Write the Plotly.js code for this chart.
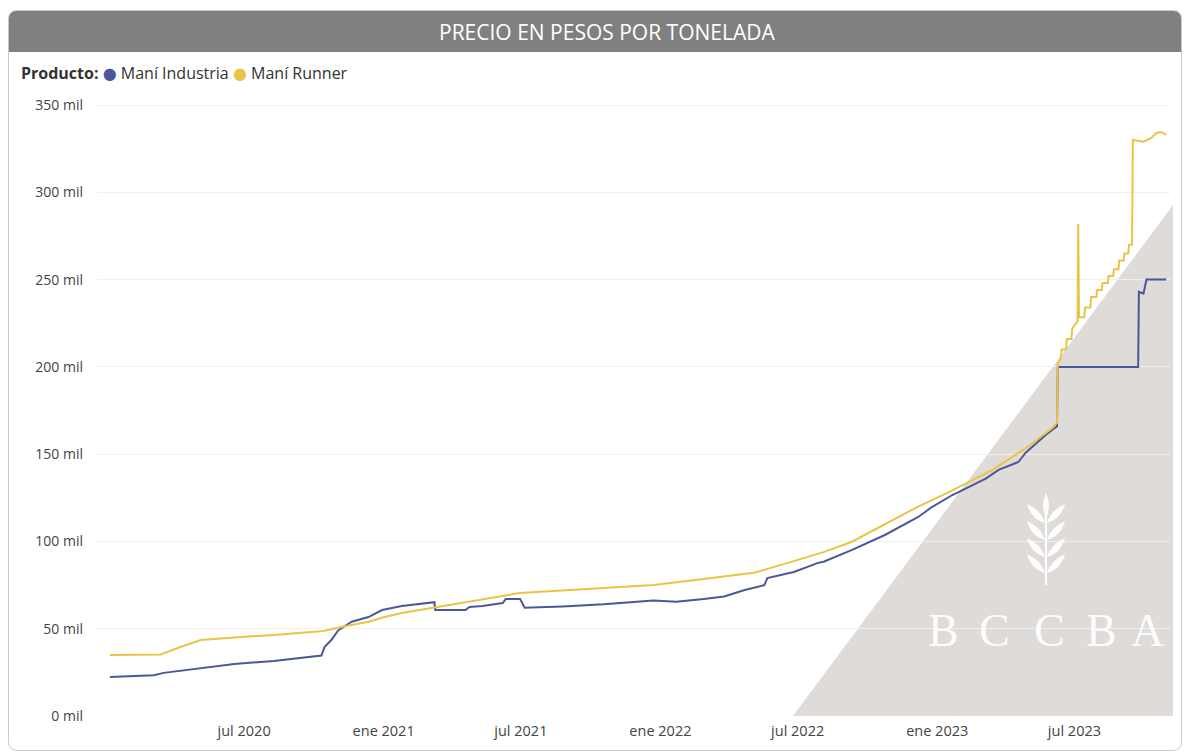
<!DOCTYPE html>
<html>
<head>
<meta charset="utf-8">
<script src="https://cdn.plot.ly/plotly-3.0.1.min.js"></script>
<style>
  html, body { margin: 0; padding: 0; background: #ffffff; }
  #chart { width: 1188px; height: 754px; }
</style>
</head>
<body>
<div id="chart"></div>
<script>
// ---- Data (values in thousands of pesos per tonne) ----
const industriaFechas = [
  '2020-01-06','2020-03-04','2020-03-17','2020-05-05','2020-06-18','2020-08-09','2020-09-14','2020-10-11',
  '2020-10-15','2020-10-24','2020-11-02','2020-11-20','2020-12-12','2020-12-30','2021-01-25','2021-02-21',
  '2021-03-06','2021-03-09','2021-03-10','2021-04-19','2021-04-24','2021-05-11','2021-06-07','2021-06-11',
  '2021-06-30','2021-07-06','2021-08-25','2021-10-18','2021-12-23','2022-01-22','2022-02-27','2022-03-26',
  '2022-04-21','2022-05-18','2022-05-22','2022-06-26','2022-07-27','2022-08-05','2022-09-10','2022-10-24',
  '2022-12-07','2022-12-25','2023-01-21','2023-02-11','2023-03-06','2023-03-23','2023-04-18','2023-04-28',
  '2023-05-24','2023-06-08','2023-06-09','2023-09-23','2023-09-24','2023-09-30','2023-10-03','2023-10-04',
  '2023-10-30'
];
const industriaValores = [
  22.3, 23.3, 24.7, 27.5, 29.8, 31.5, 33.5, 34.6,
  39.5, 43.5, 49, 54, 56.7, 60.7, 63, 64.5,
  65.3, 65.2, 60.7, 60.7, 62.4, 63, 64.7, 67,
  67, 62, 62.8, 64, 66.2, 65.5, 67, 68.5,
  72, 75, 79, 82.5, 87.6, 88.5, 95, 103.7,
  114, 119.7, 126.6, 131, 136, 141, 145.5, 151,
  161, 166, 200, 200, 243, 242, 248.6, 250,
  250
];
const runnerFechas = [
  '2020-01-06','2020-03-13','2020-04-08','2020-05-05','2020-06-18','2020-08-09','2020-10-14','2020-11-06',
  '2020-12-12','2021-01-02','2021-01-25','2021-03-06','2021-05-15','2021-06-29','2021-10-18','2021-12-23',
  '2022-02-27','2022-05-04','2022-06-17','2022-08-05','2022-09-10','2022-12-07','2023-01-15','2023-03-15',
  '2023-04-28','2023-06-02','2023-06-08','2023-06-09','2023-06-13','2023-06-14','2023-06-20','2023-06-21',
  '2023-06-27','2023-06-28','2023-07-05','2023-07-06','2023-07-07','2023-07-14','2023-07-15','2023-07-22',
  '2023-07-23','2023-07-30','2023-07-31','2023-08-06','2023-08-07','2023-08-14','2023-08-15','2023-08-21',
  '2023-08-22','2023-08-28','2023-08-29','2023-09-04','2023-09-05','2023-09-10','2023-09-11','2023-09-15',
  '2023-09-16','2023-09-30','2023-10-10','2023-10-17','2023-10-23','2023-10-30'
];
const runnerValores = [
  35, 35.3, 39.5, 43.5, 45, 46.4, 48.7, 51,
  54, 56.7, 59, 61.9, 67, 70.4, 73.3, 75,
  78.5, 82, 87.6, 94, 99.7, 120, 128, 141,
  153.5, 165, 168, 202, 205, 210, 210, 216,
  216, 222, 226, 282, 228.5, 228.5, 234, 234,
  240, 240, 244, 244, 248, 248, 252, 252,
  256, 256, 261, 261, 265, 265, 270, 270,
  330, 329, 331, 334, 334.5, 333
];
const tickFechas = ['2020-07-01','2021-01-01','2021-07-01','2022-01-01','2022-07-01','2023-01-01','2023-07-01'];
const tickTextos = ['jul 2020','ene 2021','jul 2021','ene 2022','jul 2022','ene 2023','jul 2023'];
const yTicks = [0, 50, 100, 150, 200, 250, 300, 350];
const yTickTextos = ['0 mil','50 mil','100 mil','150 mil','200 mil','250 mil','300 mil','350 mil'];
const serieNombres = ['Maní Industria', 'Maní Runner'];
const tituloTexto = 'PRECIO EN PESOS POR TONELADA';
const leyendaTitulo = 'Producto:';
const marcaLetras = ['B', 'C', 'C', 'B', 'A'];

// ---- Layout geometry helpers ----
const W = 1188, H = 754;
const ML = 97, MR = 18, MT = 104, MB = 38;
const PW = W - ML - MR, PH = H - MT - MB;
const fx = px => (px - ML) / PW;
const fy = py => (H - MB - py) / PH;
const P = (px, py) => fx(px).toFixed(5) + ',' + fy(py).toFixed(5);

const AZUL = '#4b5897';
const AMARILLO = '#e9c547';
const FONT = '"Open Sans", "Noto Sans", "DejaVu Sans", sans-serif';

// container border (rounded)
const x0 = 8.5, y0 = 10.5, x1 = 1181.5, y1 = 750.5, r = 9;
const borderPath = 'M' + P(x0 + r, y0) + ' L' + P(x1 - r, y0) + ' Q' + P(x1, y0) + ' ' + P(x1, y0 + r) +
  ' L' + P(x1, y1 - r) + ' Q' + P(x1, y1) + ' ' + P(x1 - r, y1) +
  ' L' + P(x0 + r, y1) + ' Q' + P(x0, y1) + ' ' + P(x0, y1 - r) +
  ' L' + P(x0, y0 + r) + ' Q' + P(x0, y0) + ' ' + P(x0 + r, y0) + ' Z';
const barPath = 'M' + P(x0, 52) + ' L' + P(x0, y0 + r) + ' Q' + P(x0, y0) + ' ' + P(x0 + r, y0) +
  ' L' + P(x1 - r, y0) + ' Q' + P(x1, y0) + ' ' + P(x1, y0 + r) + ' L' + P(x1, 52) + ' Z';
const triPath = 'M' + P(793, 716) + ' L' + P(1173, 205) + ' L' + P(1173, 716) + ' Z';

// wheat icon (watermark)
function leafR(b) { return `M23,${b} Q26,${b-12} 41,${b-19} Q37,${b-4} 23,${b} Z`; }
function leafL(b) { return `M21,${b} Q18,${b-12} 3,${b-19} Q7,${b-4} 21,${b} Z`; }
let leaves = '';
[30, 47, 64, 80].forEach(b => { leaves += `<path d="${leafR(b)}"/><path d="${leafL(b)}"/>`; });
const wheatSvg = `<svg xmlns="http://www.w3.org/2000/svg" width="44" height="92" viewBox="0 0 44 92">` +
  `<g fill="#ffffff"><path d="M22,0 Q28,12 22,25 Q16,12 22,0 Z"/>${leaves}</g>` +
  `<path d="M22,20 L22,92" stroke="#ffffff" stroke-width="2.2"/></svg>`;
const wheatSrc = 'data:image/svg+xml;base64,' + btoa(wheatSvg);

const letterX = [943, 994, 1049, 1101, 1147];
const letterAnn = marcaLetras.map((t, i) => ({
  text: t, x: fx(letterX[i]), y: fy(630), xref: 'paper', yref: 'paper',
  xanchor: 'center', yanchor: 'middle', showarrow: false,
  font: { family: '"Liberation Serif", "DejaVu Serif", serif', size: 46, color: '#ffffff' },
  opacity: 0.92
}));

const traces = [
  { x: industriaFechas, y: industriaValores, name: serieNombres[0], type: 'scatter', mode: 'lines',
    line: { color: AZUL, width: 2 }, hoverinfo: 'x+y' },
  { x: runnerFechas, y: runnerValores, name: serieNombres[1], type: 'scatter', mode: 'lines',
    line: { color: AMARILLO, width: 2 }, hoverinfo: 'x+y' }
];

const layout = {
  width: W, height: H,
  margin: { l: ML, r: MR, t: MT, b: MB, pad: 0 },
  paper_bgcolor: '#ffffff', plot_bgcolor: '#ffffff',
  showlegend: false,
  font: { family: FONT, color: '#444444', size: 14 },
  xaxis: {
    type: 'date', range: ['2019-12-20', '2023-11-04'],
    tickmode: 'array', tickvals: tickFechas, ticktext: tickTextos,
    showgrid: false, zeroline: false, showline: false, ticks: '',
    tickfont: { family: FONT, size: 14.5, color: '#444444' }, ticklabelstandoff: 4
  },
  yaxis: {
    range: [0, 350.6], tickmode: 'array', tickvals: yTicks, ticktext: yTickTextos,
    showgrid: true, gridcolor: '#efefef', gridwidth: 1, zeroline: false, showline: false, ticks: '',
    tickfont: { family: FONT, size: 14, color: '#444444' }, ticklabelstandoff: 13
  },
  shapes: [
    { type: 'path', xref: 'paper', yref: 'paper', path: triPath, fillcolor: '#dedbd9', line: { width: 0 }, layer: 'below' },
    { type: 'path', xref: 'paper', yref: 'paper', path: barPath, fillcolor: '#808080', line: { width: 0 }, layer: 'above' },
    { type: 'path', xref: 'paper', yref: 'paper', path: borderPath, fillcolor: 'rgba(0,0,0,0)', line: { color: '#c8c8c8', width: 1 }, layer: 'above' }
  ],
  images: [
    { source: wheatSrc, xref: 'paper', yref: 'paper', x: fx(1024), y: fy(493), sizex: 44 / PW, sizey: 92 / PH,
      xanchor: 'left', yanchor: 'top', sizing: 'stretch', layer: 'above', opacity: 0.95 }
  ],
  annotations: [
    { text: tituloTexto, x: fx(607), y: fy(32), xref: 'paper', yref: 'paper', xanchor: 'center', yanchor: 'middle',
      showarrow: false, font: { family: FONT, size: 21, color: '#ffffff' } },
    { text: '<b>' + leyendaTitulo + '</b> <span style="color:' + AZUL + '">●</span> ' + serieNombres[0] +
        ' <span style="color:' + AMARILLO + '">●</span> ' + serieNombres[1],
      x: fx(19), y: fy(73), xref: 'paper', yref: 'paper', xanchor: 'left', yanchor: 'middle',
      showarrow: false, font: { family: FONT, size: 16, color: '#333333' } }
  ].concat(letterAnn)
};

Plotly.newPlot('chart', traces, layout, { displayModeBar: false, staticPlot: true });
</script>
</body>
</html>
